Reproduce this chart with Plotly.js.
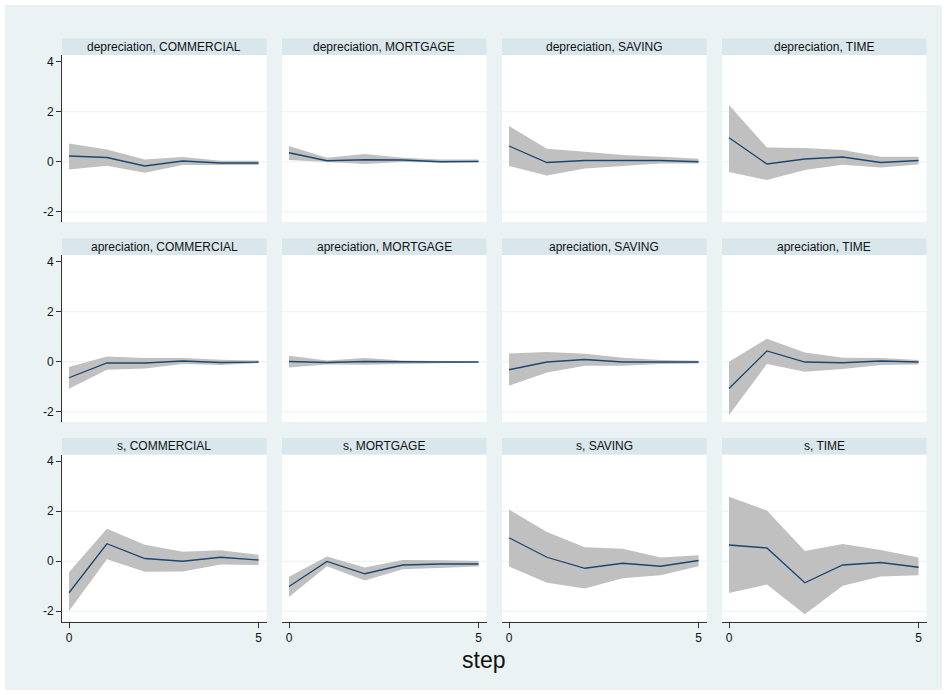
<!DOCTYPE html>
<html><head><meta charset="utf-8">
<script src="https://cdn.plot.ly/plotly-3.0.1.min.js"></script>
<style>html,body{margin:0;padding:0;background:#fff}</style>
</head><body><div id="chart" style="width:947px;height:695px"></div>
<script>
// ---- data ----
const steps = [0, 1, 2, 3, 4, 5];
const xTickVals = [0, 5];
const xTickText = ['0', '5'];
const yTickVals = [-2, 0, 2, 4];
const yTickText = ['-2', '0', '2', '4'];
const xTitle = 'step';

const panelTitles = [
  'depreciation, COMMERCIAL', 'depreciation, MORTGAGE', 'depreciation, SAVING', 'depreciation, TIME',
  'apreciation, COMMERCIAL', 'apreciation, MORTGAGE', 'apreciation, SAVING', 'apreciation, TIME',
  's, COMMERCIAL', 's, MORTGAGE', 's, SAVING', 's, TIME'
];

// row 1: depreciation
const irf_dep_comm = [0.23, 0.17, -0.17, 0.03, -0.05, -0.05];
const hi_dep_comm  = [0.73, 0.49, 0.09, 0.19, 0.04, 0.04];
const lo_dep_comm  = [-0.31, -0.16, -0.44, -0.13, -0.13, -0.13];

const irf_dep_mort = [0.36, 0.04, 0.08, 0.07, 0.00, 0.01];
const hi_dep_mort  = [0.63, 0.16, 0.31, 0.16, 0.09, 0.09];
const lo_dep_mort  = [0.07, -0.01, -0.09, -0.01, -0.03, -0.01];

const irf_dep_sav = [0.63, -0.03, 0.05, 0.04, 0.05, 0.00];
const hi_dep_sav  = [1.43, 0.52, 0.40, 0.27, 0.20, 0.12];
const lo_dep_sav  = [-0.17, -0.55, -0.27, -0.17, -0.07, -0.07];

const irf_dep_time = [0.96, -0.09, 0.11, 0.19, -0.03, 0.05];
const hi_dep_time  = [2.27, 0.57, 0.55, 0.47, 0.20, 0.20];
const lo_dep_time  = [-0.41, -0.73, -0.33, -0.12, -0.23, -0.11];

// row 2: apreciation
const irf_ap_comm = [-0.64, -0.05, -0.05, 0.03, -0.03, -0.01];
const hi_ap_comm  = [-0.21, 0.21, 0.15, 0.15, 0.08, 0.05];
const lo_ap_comm  = [-1.08, -0.32, -0.27, -0.09, -0.13, -0.05];

const irf_ap_mort = [0.01, -0.03, 0.01, -0.01, -0.01, -0.01];
const hi_ap_mort  = [0.24, 0.05, 0.15, 0.05, 0.03, 0.01];
const lo_ap_mort  = [-0.23, -0.11, -0.12, -0.07, -0.06, -0.03];

const irf_ap_sav = [-0.32, -0.01, 0.09, -0.01, -0.01, -0.01];
const hi_ap_sav  = [0.33, 0.39, 0.32, 0.16, 0.07, 0.04];
const lo_ap_sav  = [-0.96, -0.43, -0.16, -0.16, -0.09, -0.07];

const irf_ap_time = [-1.07, 0.43, -0.01, -0.04, 0.03, -0.01];
const hi_ap_time  = [0.00, 0.92, 0.37, 0.16, 0.15, 0.07];
const lo_ap_time  = [-2.13, -0.09, -0.40, -0.29, -0.13, -0.11];

// row 3: s
const irf_s_comm = [-1.26, 0.70, 0.11, 0.00, 0.16, 0.05];
const hi_s_comm  = [-0.44, 1.30, 0.66, 0.38, 0.44, 0.26];
const lo_s_comm  = [-1.99, 0.08, -0.42, -0.41, -0.13, -0.15];

const irf_s_mort = [-1.01, -0.01, -0.50, -0.15, -0.11, -0.11];
const hi_s_mort  = [-0.62, 0.19, -0.25, 0.05, 0.04, 0.01];
const lo_s_mort  = [-1.43, -0.20, -0.77, -0.32, -0.26, -0.21];

const irf_s_sav = [0.94, 0.16, -0.28, -0.08, -0.20, 0.03];
const hi_s_sav  = [2.07, 1.17, 0.56, 0.50, 0.15, 0.24];
const lo_s_sav  = [-0.21, -0.86, -1.09, -0.68, -0.56, -0.20];

const irf_s_time = [0.65, 0.53, -0.86, -0.15, -0.05, -0.24];
const hi_s_time  = [2.58, 2.03, 0.41, 0.69, 0.45, 0.15];
const lo_s_time  = [-1.27, -0.93, -2.12, -0.98, -0.61, -0.56];

const irfs = [irf_dep_comm, irf_dep_mort, irf_dep_sav, irf_dep_time,
              irf_ap_comm, irf_ap_mort, irf_ap_sav, irf_ap_time,
              irf_s_comm, irf_s_mort, irf_s_sav, irf_s_time];
const his = [hi_dep_comm, hi_dep_mort, hi_dep_sav, hi_dep_time,
             hi_ap_comm, hi_ap_mort, hi_ap_sav, hi_ap_time,
             hi_s_comm, hi_s_mort, hi_s_sav, hi_s_time];
const los = [lo_dep_comm, lo_dep_mort, lo_dep_sav, lo_dep_time,
             lo_ap_comm, lo_ap_mort, lo_ap_sav, lo_ap_time,
             lo_s_comm, lo_s_mort, lo_s_sav, lo_s_time];

// ---- geometry / style ----
const W = 947, H = 695;
const colLeft = [62, 282, 502, 722], colW = 204.5;
const rowTop = [55, 255, 454.5], rowH = 167, stripH = 16.5;
const FONT = 'Liberation Sans, Arial, sans-serif';
const bandColor = '#c0c0c0', lineColor = '#1a476f', gridColor = '#eaf2f3';
const stripColor = '#d9e6eb', bgColor = '#eaf2f3', axisColor = '#333';

const data = [];
const layout = {
  width: W, height: H,
  margin: {l: 0, r: 0, t: 0, b: 0},
  paper_bgcolor: '#ffffff', plot_bgcolor: '#ffffff',
  showlegend: false,
  font: {family: FONT, size: 12, color: '#111'},
  shapes: [], annotations: []
};

// outer graph region
layout.shapes.push({type: 'rect', xref: 'paper', yref: 'paper', layer: 'below',
  x0: 5 / W, x1: (W - 5) / W, y0: 5 / H, y1: 1 - 5 / H,
  fillcolor: bgColor, line: {width: 0}});

for (let i = 0; i < 12; i++) {
  const r = Math.floor(i / 4), c = i % 4;
  const n = i + 1, sfx = n === 1 ? '' : String(n);
  const xa = 'x' + sfx, ya = 'y' + sfx;
  const x0 = colLeft[c] / W, x1 = (colLeft[c] + colW) / W;
  const yTop = 1 - rowTop[r] / H, yBot = 1 - (rowTop[r] + rowH) / H;

  // band polygon
  data.push({
    x: steps.concat(steps.slice().reverse()),
    y: his[i].concat(los[i].slice().reverse()),
    xaxis: xa, yaxis: ya, type: 'scatter', mode: 'lines',
    fill: 'toself', fillcolor: bandColor, line: {width: 0, color: bandColor},
    hoverinfo: 'skip'
  });
  data.push({
    x: steps, y: irfs[i], xaxis: xa, yaxis: ya, type: 'scatter', mode: 'lines',
    line: {color: lineColor, width: 1.3}
  });

  const isLeft = c === 0, isBottom = r === 2;
  layout['xaxis' + sfx] = {
    domain: [x0, x1], anchor: ya, range: [-0.185, 5.21],
    showgrid: false, zeroline: false,
    showline: isBottom, linecolor: axisColor, linewidth: 1,
    ticks: isBottom ? 'outside' : '', ticklen: 5, tickcolor: axisColor,
    tickvals: xTickVals, ticktext: xTickText, showticklabels: isBottom,
    tickfont: {family: FONT, size: 12, color: '#111'}
  };
  layout['yaxis' + sfx] = {
    domain: [yBot, yTop], anchor: xa, range: [-2.41, 4.27],
    showgrid: false, zeroline: false,
    showline: isLeft, linecolor: axisColor, linewidth: 1,
    ticks: isLeft ? 'outside' : '', ticklen: 5, tickcolor: axisColor,
    tickvals: yTickVals, ticktext: yTickText, showticklabels: isLeft,
    tickfont: {family: FONT, size: 12, color: '#111'}
  };

  // white plot region
  layout.shapes.push({type: 'rect', xref: xa + ' domain', yref: ya + ' domain', layer: 'below',
    x0: 0, x1: 1, y0: 0, y1: 1, fillcolor: '#ffffff', line: {width: 0}});

  // horizontal gridlines at -2, 0, 2
  [-2, 0, 2].forEach(v => layout.shapes.push({
    type: 'line', xref: xa + ' domain', yref: ya, layer: 'below',
    x0: 0, x1: 1, y0: v, y1: v, line: {color: gridColor, width: 1}
  }));

  // strip header
  const sTop = 1 - (rowTop[r] - stripH) / H;
  layout.shapes.push({type: 'rect', xref: 'paper', yref: 'paper', layer: 'below',
    x0: x0, x1: x1, y0: yTop, y1: sTop, fillcolor: stripColor, line: {width: 0}});
  layout.annotations.push({xref: 'paper', yref: 'paper', x: (x0 + x1) / 2, y: (yTop + sTop) / 2,
    text: panelTitles[i], showarrow: false, xanchor: 'center', yanchor: 'middle',
    font: {family: FONT, size: 12, color: '#111'}});
}

layout.annotations.push({xref: 'paper', yref: 'paper', x: 483 / W, y: 1 - 660 / H,
  text: xTitle, showarrow: false, xanchor: 'center', yanchor: 'middle',
  font: {family: FONT, size: 23, color: '#111'}});

Plotly.newPlot('chart', data, layout, {displayModeBar: false, staticPlot: true});
</script></body></html>
